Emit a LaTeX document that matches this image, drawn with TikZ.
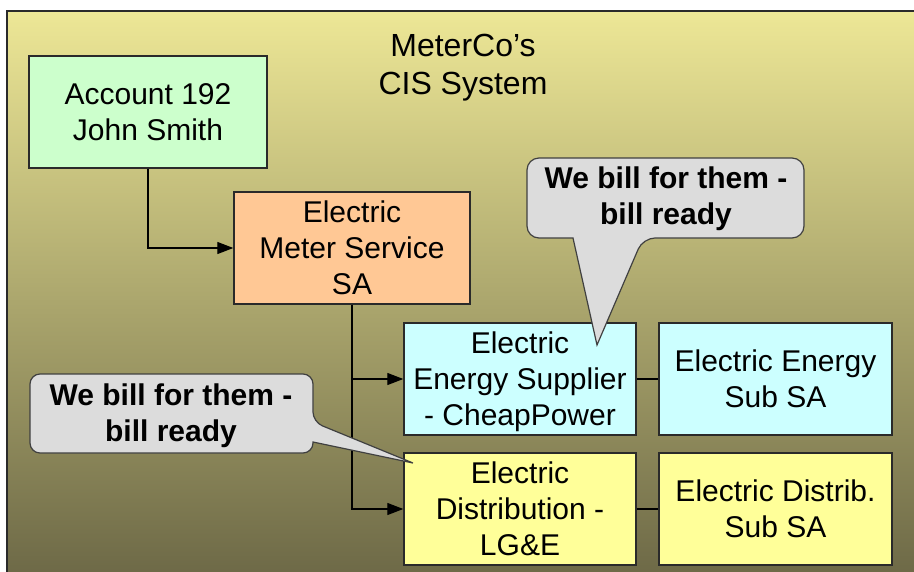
\documentclass[tikz,border=0pt]{standalone}
\usepackage{fontspec}
\setmainfont{Liberation Sans}
\usetikzlibrary{arrows.meta}
\definecolor{bgtop}{HTML}{EDE796}
\definecolor{bgmid}{HTML}{BDB575}
\definecolor{bgbot}{HTML}{6C6846}
\definecolor{boxline}{HTML}{2A2A2A}
\definecolor{accgreen}{HTML}{CCFFCC}
\definecolor{meterpeach}{HTML}{FFC895}
\definecolor{supcyan}{HTML}{CCFFFF}
\definecolor{distyellow}{HTML}{FFFF99}
\definecolor{callgray}{HTML}{DCDCDC}
\definecolor{callline}{HTML}{404040}
\begin{document}
\begin{tikzpicture}[x=1pt,y=-1pt,
  every node/.style={align=center, inner sep=0pt, text=black},
  txt/.style={font=\fontsize{30}{36}\selectfont},
  box/.style={txt, draw=boxline, line width=1.4pt, fill=#1, minimum height=112pt},
  conn/.style={draw=black, line width=1.2pt},
  arr/.style={conn, -{Triangle[length=16pt,width=12pt]}},
  callout/.style={fill=callgray, draw=callline, line width=1.2pt},
  calltext/.style={font=\fontsize{30}{36}\selectfont\bfseries}]
\useasboundingbox (0,0) rectangle (914,571);
\begin{scope}
\clip (0,0) rectangle (914,571);
\shade[top color=bgtop, middle color=bgmid, bottom color=bgbot] (7,11) rectangle (925,580);
\draw[boxline, line width=1.6pt] (7,580) -- (7,11) -- (925,11);
\end{scope}

\node[font=\fontsize{32}{38}\selectfont, text depth=0pt] (title) at (463,64) {MeterCo’s\\CIS System};

\node[box=accgreen, minimum width=238pt] (acc) at (148,112) {Account 192\\John Smith};
\node[box=meterpeach, minimum width=236pt] (meter) at (352,248) {Electric\\Meter Service\\SA};
\node[box=supcyan, minimum width=232pt, text depth=-1pt] (sup) at (520,379) {Electric\\Energy Supplier\\- CheapPower};
\node[box=supcyan, minimum width=233pt] (supsub) at (775.5,379) {Electric Energy\\Sub SA};
\node[box=distyellow, minimum width=232pt] (dist) at (520,509) {Electric\\Distribution -\\LG\&E};
\node[box=distyellow, minimum width=233pt] (distsub) at (775.5,509) {Electric Distrib.\\Sub SA};

\draw[arr] (acc.south) |- (meter.west);
\draw[arr] (meter.south) |- (sup.west);
\draw[arr] (meter.south) |- (dist.west);
\draw[conn] (sup.east) -- (supsub.west);
\draw[conn] (dist.east) -- (distsub.west);

\coordinate (tipA) at (597,345);
\coordinate (tipB) at (413,463);
\draw[callout] (tipA) -- (573,238) [rounded corners=12pt] -- (527,238) -- (527,158) -- (804,158) -- (804,238) -- (643,238) [sharp corners] -- cycle;
\draw[callout] (tipB) -- (313,442) [rounded corners=10pt] -- (313,453) -- (30,453) -- (30,374) -- (313,374) -- (313,422) [sharp corners] -- cycle;

\node[calltext] (callA) at (666,199) {We bill for them -\\bill ready};
\node[calltext] (callB) at (171,416) {We bill for them -\\bill ready};
\end{tikzpicture}
\end{document}
